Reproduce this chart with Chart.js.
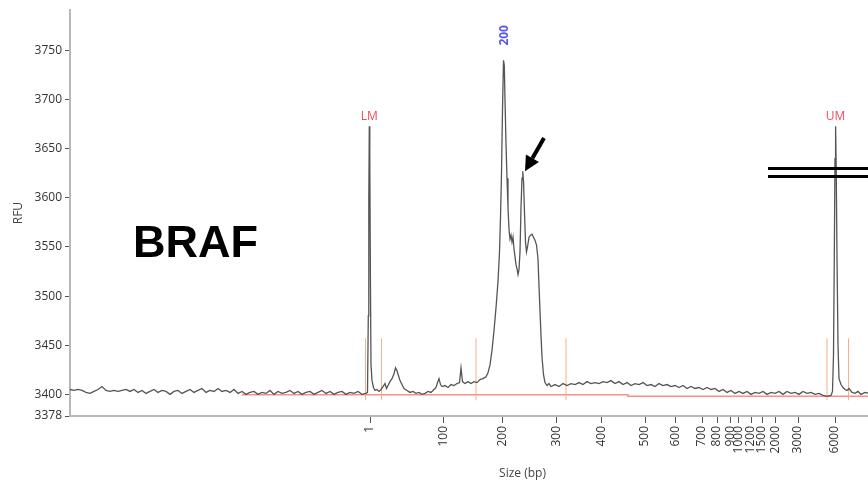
<!DOCTYPE html>
<html>
<head>
<meta charset="utf-8">
<script src="https://cdn.jsdelivr.net/npm/chart.js@4/dist/chart.umd.min.js"></script>
<style>
  html, body { margin: 0; padding: 0; background: #fff; overflow: hidden; }
</style>
</head>
<body>
<canvas id="trace" width="975" height="483"></canvas>
<script>
// Electropherogram: RFU against migration time, sized against the ladder.

// Migration time (s) and signal (RFU) of the sample trace.
const traceTime = [
  0.0, 0.4, 0.8, 1.2, 1.6, 2.0, 2.4, 2.8, 3.2, 3.6,
  4.0, 4.4, 4.8, 5.2, 5.6, 6.0, 6.4, 6.8, 7.2, 7.6,
  8.0, 8.4, 8.8, 9.2, 9.6, 10.0, 10.4, 10.8, 11.2, 11.6,
  12.0, 12.4, 12.8, 13.2, 13.6, 14.0, 14.4, 14.8, 15.2, 15.6,
  16.0, 16.4, 16.8, 17.2, 17.6, 18.0, 18.4, 18.8, 19.2, 19.6,
  20.0, 20.4, 20.8, 21.2, 21.6, 22.0, 22.4, 22.8, 23.2, 23.6,
  24.0, 24.4, 24.8, 25.2, 25.6, 26.0, 26.4, 26.8, 27.2, 27.6,
  28.0, 28.4, 28.8, 29.2, 29.6, 29.75, 29.83, 29.88, 29.93, 29.98,
  30.04, 30.1, 30.2, 30.35, 30.5, 30.7, 30.9, 31.1, 31.3, 31.5,
  31.65, 31.8, 32.0, 32.2, 32.4, 32.55, 32.7, 32.85, 33.0, 33.2,
  33.4, 33.7, 34.0, 34.3, 34.6, 34.9, 35.2, 35.5, 35.8, 36.1,
  36.4, 36.6, 36.75, 36.9, 37.05, 37.2, 37.5, 37.8, 38.1, 38.4,
  38.7, 38.95, 39.1, 39.25, 39.5, 39.8, 40.1, 40.4, 40.7, 41.0,
  41.3, 41.6, 41.8, 42.0, 42.2, 42.4, 42.6, 42.8, 42.95, 43.05,
  43.15, 43.25, 43.35, 43.43, 43.5, 43.6, 43.7, 43.8, 43.9, 44.0,
  44.1, 44.2, 44.3, 44.4, 44.5, 44.6, 44.7, 44.8, 44.9, 45.0,
  45.1, 45.2, 45.28, 45.36, 45.45, 45.55, 45.65, 45.75, 45.9, 46.05,
  46.2, 46.35, 46.5, 46.65, 46.8, 46.9, 47.0, 47.1, 47.2, 47.35,
  47.5, 47.7, 47.9, 48.1, 48.5, 48.9, 49.3, 49.7, 50.1, 50.5,
  50.9, 51.3, 51.7, 52.1, 52.5, 52.9, 53.3, 53.7, 54.1, 54.5,
  54.9, 55.3, 55.7, 56.1, 56.5, 56.9, 57.3, 57.7, 58.1, 58.5,
  58.9, 59.3, 59.7, 60.1, 60.5, 60.9, 61.3, 61.7, 62.1, 62.5,
  62.9, 63.3, 63.7, 64.1, 64.5, 64.9, 65.3, 65.7, 66.1, 66.5,
  66.9, 67.3, 67.7, 68.1, 68.5, 68.9, 69.3, 69.7, 70.1, 70.5,
  70.9, 71.3, 71.7, 72.1, 72.5, 72.9, 73.3, 73.7, 74.1, 74.5,
  74.9, 75.3, 75.7, 76.1, 76.25, 76.35, 76.43, 76.5, 76.56, 76.62,
  76.7, 76.8, 76.9, 77.1, 77.3, 77.5, 77.7, 77.9, 78.2, 78.5,
  78.8, 79.1, 79.5, 79.9, 80.6, 82.0, 84.0, 86.0, 88.0, 90.5,
];
const traceRFU = [
  3405, 3404, 3405, 3404, 3402, 3401, 3403, 3405, 3408, 3404,
  3403, 3404, 3403, 3404, 3405, 3403, 3405, 3402, 3404, 3401,
  3403, 3405, 3402, 3404, 3403, 3400, 3403, 3404, 3401, 3403,
  3405, 3402, 3404, 3406, 3402, 3404, 3403, 3406, 3403, 3404,
  3402, 3405, 3401, 3403, 3400, 3402, 3403, 3400, 3402, 3401,
  3404, 3400, 3403, 3401, 3402, 3404, 3401, 3403, 3400, 3402,
  3403, 3400, 3402, 3404, 3401, 3403, 3400, 3402, 3403, 3400,
  3402, 3401, 3403, 3400, 3401, 3402, 3480, 3600, 3673, 3640,
  3520, 3430, 3414, 3407, 3404, 3405, 3403, 3405, 3408, 3411,
  3406, 3409, 3413, 3416, 3421, 3427, 3424, 3419, 3414, 3410,
  3406, 3404, 3402, 3403, 3401, 3402, 3400, 3401, 3403, 3402,
  3405, 3407, 3412, 3416, 3410, 3408, 3409, 3407, 3410, 3409,
  3411, 3412, 3427, 3413, 3411, 3413, 3411, 3413, 3412, 3415,
  3416, 3418, 3422, 3430, 3445, 3465, 3488, 3515, 3545, 3580,
  3625, 3690, 3740, 3735, 3700, 3655, 3620, 3590, 3568, 3558,
  3562, 3555, 3560, 3548, 3540, 3532, 3528, 3522, 3527, 3545,
  3590, 3620, 3627, 3615, 3585, 3555, 3545, 3550, 3560, 3562,
  3563, 3560, 3557, 3552, 3538, 3510, 3485, 3460, 3438, 3420,
  3412, 3409, 3411, 3408, 3410, 3408, 3411, 3409, 3411, 3410,
  3412, 3410, 3413, 3411, 3412, 3411, 3413, 3412, 3414, 3411,
  3413, 3410, 3412, 3409, 3411, 3410, 3412, 3409, 3410, 3408,
  3411, 3409, 3410, 3408, 3409, 3407, 3409, 3406, 3408, 3406,
  3407, 3405, 3407, 3405, 3406, 3403, 3405, 3402, 3404, 3401,
  3403, 3401, 3403, 3400, 3402, 3401, 3403, 3400, 3402, 3401,
  3403, 3400, 3403, 3401, 3402, 3400, 3403, 3401, 3402, 3400,
  3401, 3399, 3398, 3399, 3403, 3440, 3540, 3640, 3673, 3630,
  3540, 3450, 3416, 3410, 3407, 3405, 3404, 3406, 3402, 3401,
  3403, 3400, 3402, 3401, 3401, 3400, 3401, 3400, 3401, 3400,
];

// Ladder sizes (bp) and the migration time each one maps to.
const ladderSize = ["1", "100", "200", "300", "400", "500", "600", "700", "800",
                    "900", "1000", "1200", "1500", "2000", "3000", "6000"];
const ladderTime = [30.0, 37.35, 43.3, 48.65, 53.15, 57.5, 60.55, 63.2, 64.7,
                    66.05, 66.85, 68.1, 69.2, 70.6, 72.8, 76.5];

const rfuTicks = [3378, 3400, 3450, 3500, 3550, 3600, 3650, 3700, 3750];

// Lower / upper markers.
const markerName = ["LM", "UM"];
const markerTime = [29.93, 76.56];
const markerRFU  = [3673, 3673];

// Called size on the main peak.
const calledSize = "200";
const calledTime = 43.35;
const calledRFU  = 3740;

// Peak window boundaries.
const windowTime = [29.55, 31.15, 40.6, 49.6, 75.7, 77.85];
const windowLow = 3394, windowHigh = 3457;

// Fitted baseline.
const baselineTime = [17.2, 55.8, 55.8, 90.5];
const baselineRFU  = [3399.5, 3399.5, 3398, 3398];

const FONT = '"Open Sans", "DejaVu Sans", sans-serif';
const MARKER_RED = "#ef4a5a";
const CALL_BLUE = "#5555f0";

const windowPoints = [];
windowTime.forEach(t => {
  windowPoints.push({ x: t, y: windowLow }, { x: t, y: windowHigh }, { x: t, y: null });
});

// Labels, the arrow and the break mark drawn on top of the traces.
const overlay = {
  id: "overlay",
  afterDatasetsDraw(chart) {
    const { ctx } = chart;
    const xs = chart.scales.x, ys = chart.scales.y;
    ctx.save();

    ctx.font = `12px ${FONT}`;
    ctx.fillStyle = MARKER_RED;
    ctx.textAlign = "center";
    ctx.textBaseline = "middle";
    markerName.forEach((name, i) => {
      ctx.fillText(name, xs.getPixelForValue(markerTime[i]), ys.getPixelForValue(markerRFU[i]) - 10);
    });

    // size call, rotated above its peak
    ctx.save();
    ctx.translate(xs.getPixelForValue(calledTime) + 1, ys.getPixelForValue(calledRFU) - 25);
    ctx.rotate(-Math.PI / 2);
    ctx.font = `bold 12px ${FONT}`;
    ctx.fillStyle = CALL_BLUE;
    ctx.fillText(calledSize, 0, 0);
    ctx.restore();

    // gene name
    ctx.font = 'bold 45px "Liberation Sans", Arial, sans-serif';
    ctx.fillStyle = "#000";
    ctx.textAlign = "left";
    ctx.textBaseline = "alphabetic";
    ctx.fillText("BRAF", xs.getPixelForValue(6.3), ys.getPixelForValue(3540));

    // arrow onto the 2nd peak
    const tipX = xs.getPixelForValue(45.5), tipY = ys.getPixelForValue(3627);
    const tailX = xs.getPixelForValue(47.4), tailY = ys.getPixelForValue(3661);
    const dx = tailX - tipX, dy = tailY - tipY;
    const len = Math.hypot(dx, dy), ux = dx / len, uy = dy / len;
    const head = 15, half = 7.5;
    const bx = tipX + ux * head, by = tipY + uy * head;
    ctx.strokeStyle = "#000";
    ctx.lineWidth = 4;
    ctx.beginPath();
    ctx.moveTo(tailX, tailY);
    ctx.lineTo(bx, by);
    ctx.stroke();
    ctx.beginPath();
    ctx.moveTo(tipX, tipY);
    ctx.lineTo(bx - uy * half, by + ux * half);
    ctx.lineTo(bx + uy * half, by - ux * half);
    ctx.closePath();
    ctx.fill();

    // break mark
    ctx.lineWidth = 3;
    [3630, 3622.5].forEach(v => {
      const py = Math.round(ys.getPixelForValue(v)) + 0.5;
      ctx.beginPath();
      ctx.moveTo(xs.getPixelForValue(69.8), py);
      ctx.lineTo(xs.right, py);
      ctx.stroke();
    });

    ctx.restore();
  },
};

new Chart(document.getElementById("trace"), {
  type: "line",
  data: {
    datasets: [
      {
        label: "sample",
        data: traceTime.map((t, i) => ({ x: t, y: traceRFU[i] })),
        borderColor: "#555",
        borderWidth: 1.3,
        pointRadius: 0,
        tension: 0,
        order: 0,
      },
      {
        label: "windows",
        data: windowPoints,
        borderColor: "#f9ad8c",
        borderWidth: 1,
        pointRadius: 0,
        spanGaps: false,
        order: 1,
      },
      {
        label: "baseline",
        data: baselineTime.map((t, i) => ({ x: t, y: baselineRFU[i] })),
        borderColor: "#ff8c8c",
        borderWidth: 1.5,
        pointRadius: 0,
        order: 2,
      },
    ],
  },
  options: {
    responsive: false,
    animation: false,
    layout: { padding: { top: 6, left: 0, right: 0, bottom: 0 } },
    plugins: { legend: { display: false }, tooltip: { enabled: false } },
    scales: {
      x: {
        type: "linear",
        min: 0, max: 90.5,
        afterBuildTicks: s => { s.ticks = ladderTime.map(v => ({ value: v })); },
        afterFit: s => { s.height = 67; },
        ticks: {
          autoSkip: false, minRotation: 90, maxRotation: 90, padding: 3,
          color: "#333", font: { family: FONT, size: 12 },
          callback: (v, i) => ladderSize[i],
        },
        grid: { drawOnChartArea: false, tickLength: 7, color: "#555" },
        border: { color: "#b8b8b8", width: 2 },
        title: {
          display: true, text: "Size (bp)", color: "#444",
          font: { family: FONT, size: 12 }, padding: { top: 0, bottom: 2 },
        },
      },
      y: {
        min: 3378, max: 3791,
        afterBuildTicks: s => { s.ticks = rfuTicks.map(v => ({ value: v })); },
        afterFit: s => { s.width = 70; },
        ticks: {
          padding: 3, color: "#333", font: { family: FONT, size: 12 },
          callback: v => String(v),
        },
        grid: { drawOnChartArea: false, tickLength: 5, color: "#555" },
        border: { color: "#b8b8b8", width: 2 },
        title: {
          display: true, text: "RFU", color: "#444",
          font: { family: FONT, size: 12 }, padding: { top: 11, bottom: 0 },
        },
      },
    },
  },
  plugins: [overlay],
});
</script>
</body>
</html>
